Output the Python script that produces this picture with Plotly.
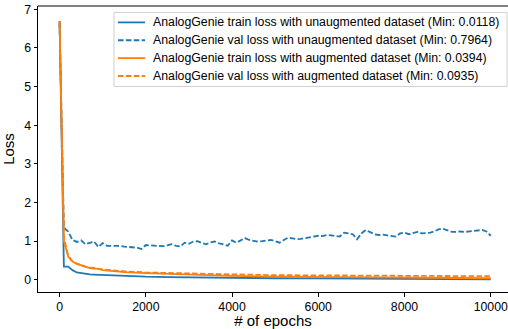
import plotly.graph_objects as go

epochs_val = list(range(0, 10001, 100))
val_unaug = [6.65, 1.35, 1.25, 1.03, 0.98, 1.02, 0.92, 0.95, 0.99, 0.85,
             0.95, 0.88, 0.88, 0.87, 0.88, 0.86, 0.85, 0.85, 0.83, 0.7964,
             0.90, 0.89, 0.88, 0.88, 0.87, 0.89, 0.92, 0.88, 0.86, 0.96,
             0.93, 0.99, 1.00, 0.95, 0.92, 0.97, 0.99, 0.94, 0.92, 0.88,
             1.02, 0.96, 1.03, 1.08, 1.03, 1.00, 0.99, 1.00, 1.01, 1.03,
             1.00, 0.96, 1.03, 1.09, 1.07, 1.05, 1.06, 1.08, 1.09, 1.12,
             1.14, 1.13, 1.16, 1.15, 1.13, 1.12, 1.22, 1.20, 1.18, 1.05,
             1.20, 1.29, 1.23, 1.18, 1.16, 1.17, 1.15, 1.13, 1.12, 1.20,
             1.22, 1.18, 1.22, 1.24, 1.20, 1.21, 1.22, 1.26, 1.31, 1.32,
             1.28, 1.24, 1.24, 1.25, 1.24, 1.25, 1.27, 1.28, 1.29, 1.25,
             1.14]

epochs_tr = [0, 100, 200, 300, 400, 500, 600, 700, 800, 900, 1000, 1200, 1500,
             2000, 2500, 3000, 3500, 4000, 5000, 6000, 7000, 8000, 9000, 10000]
train_unaug = [6.7, 0.34, 0.34, 0.25, 0.19, 0.17, 0.15, 0.14, 0.135, 0.13, 0.125,
               0.11, 0.095, 0.08, 0.07, 0.06, 0.05, 0.045, 0.04, 0.035, 0.03,
               0.025, 0.02, 0.0118]
train_aug = [6.7, 1.0, 0.6, 0.47, 0.41, 0.37, 0.33, 0.30, 0.29, 0.28, 0.25,
             0.23, 0.20, 0.17, 0.15, 0.13, 0.115, 0.10, 0.08, 0.07, 0.06,
             0.05, 0.045, 0.0394]
val_aug = [6.7, 1.1, 0.62, 0.48, 0.42, 0.37, 0.34, 0.32, 0.30, 0.29, 0.27,
           0.25, 0.22, 0.19, 0.175, 0.16, 0.15, 0.14, 0.12, 0.11, 0.105,
           0.10, 0.098, 0.0935]

names = ["AnalogGenie train loss with unaugmented dataset (Min: 0.0118)",
         "AnalogGenie val loss with unaugmented dataset (Min: 0.7964)",
         "AnalogGenie train loss with augmented dataset (Min: 0.0394)",
         "AnalogGenie val loss with augmented dataset (Min: 0.0935)"]

BLUE = "#1f77b4"
ORANGE = "#ff7f0e"
DASH = "5.5px,2.4px"
styles = [(BLUE, "solid"), (BLUE, DASH), (ORANGE, "solid"), (ORANGE, DASH)]
series = [(epochs_tr, train_unaug), (epochs_val, val_unaug),
          (epochs_tr, train_aug), (epochs_tr, val_aug)]

W, H = 508, 329
ML, MR, MT, MB = 38, 0, 6, 35
PW, PH = W - ML - MR, H - MT - MB


def px(x):
    return (x - ML) / PW


def py(y):
    return 1 - (y - MT) / PH


fig = go.Figure()
for (xs, ys), name, (col, dash) in zip(series, names, styles):
    fig.add_trace(go.Scatter(x=xs, y=ys, mode="lines", name=name, showlegend=False,
                             line=dict(color=col, width=1.8, dash=dash)))

font = "Liberation Sans"
FS = 12.3

# manual legend (matplotlib style)
shapes = [dict(type="line", xref="paper", yref="paper", x0=0, x1=1, y0=1, y1=1,
               line=dict(color="black", width=1))]
shapes.append(dict(type="rect", xref="paper", yref="paper", layer="above",
                   x0=px(114), x1=px(507), y0=py(87), y1=py(12.5),
                   fillcolor="rgba(255,255,255,0.8)",
                   line=dict(color="#d0d0d0", width=1)))
annotations = []
row_y = [22.5, 40.5, 58.5, 76.5]
for yy, name, (col, dash) in zip(row_y, names, styles):
    shapes.append(dict(type="line", xref="paper", yref="paper", layer="above",
                       x0=px(118), x1=px(145), y0=py(yy), y1=py(yy),
                       line=dict(color=col, width=1.8, dash=dash)))
    annotations.append(dict(text=name, xref="paper", yref="paper", x=px(151), y=py(yy),
                            xanchor="left", yanchor="middle", showarrow=False,
                            font=dict(family=font, size=FS, color="black")))

fig.update_layout(
    width=W, height=H,
    margin=dict(l=ML, r=MR, t=MT, b=MB),
    plot_bgcolor="white", paper_bgcolor="white",
    font=dict(family=font, size=FS, color="black"),
    showlegend=False,
    xaxis=dict(range=[-500, 10400], showgrid=False, zeroline=False,
               showline=True, linecolor="black", linewidth=1,
               ticks="outside", ticklen=3.5, tickcolor="black",
               tickvals=[0, 2000, 4000, 6000, 8000, 10000], tickformat="d",
               ticklabeloverflow="allow",
               title=dict(text="# of epochs", standoff=4)),
    yaxis=dict(range=[-0.316, 7.087], showgrid=False, zeroline=False,
               showline=True, linecolor="black", linewidth=1,
               ticks="outside", ticklen=3.5, tickcolor="black",
               tickvals=[0, 1, 2, 3, 4, 5, 6, 7],
               title=dict(text="Loss", standoff=5)),
    shapes=shapes,
    annotations=annotations,
)

fig.write_html("out.html")
